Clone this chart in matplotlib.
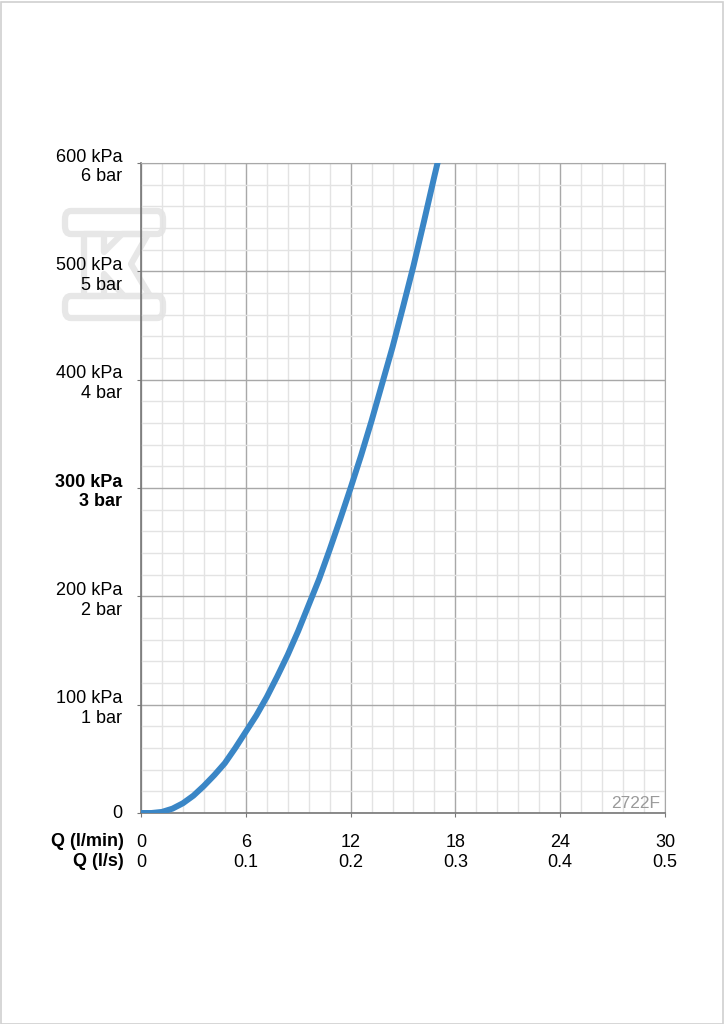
import numpy as np
import matplotlib.pyplot as plt
from matplotlib.patches import FancyBboxPatch, Polygon, Rectangle
from matplotlib.transforms import offset_copy

plt.rcParams['font.family'] = ['Liberation Sans', 'DejaVu Sans']

# flow (l/min) vs pressure loss (kPa)
flow = [0, 0.6, 1.2, 1.8, 2.4, 3.0, 3.6, 4.2, 4.8, 5.4, 6.0, 6.6, 7.2, 7.8,
        8.4, 9.0, 9.6, 10.2, 10.8, 11.4, 12.0, 12.6, 13.2, 13.8, 14.4, 15.0,
        15.6, 16.2, 16.8, 17.2]
pressure = [0, 0, 1, 4, 9, 16, 25, 35, 46, 60, 75, 90, 107, 126,
            146, 168, 192, 216, 243, 271, 300, 330, 362, 396, 430, 467,
            505, 546, 588, 615]

x_ticks = [0, 6, 12, 18, 24, 30]
x_labels_ls = ['0', '0.1', '0.2', '0.3', '0.4', '0.5']
y_ticks = [0, 100, 200, 300, 400, 500, 600]
y_labels = ['0', '100 kPa\n1 bar', '200 kPa\n2 bar', '300 kPa\n3 bar',
            '400 kPa\n4 bar', '500 kPa\n5 bar', '600 kPa\n6 bar']

W, H = 724, 1024
FS = 13
fig = plt.figure(figsize=(W / 100, H / 100), dpi=100)

# light frame round the sheet
fig.patches.append(Rectangle((0.5 / W, 0.5 / H), 1 - 2 / W, 1 - 2 / H,
                             transform=fig.transFigure, fill=False,
                             edgecolor='#d0d0d0', lw=1.2))

# watermark logo (outline)
def px(x, y):
    return (x / W, 1 - y / H)

wm = dict(transform=fig.transFigure, fill=False, edgecolor='#e7e7e7', lw=4.5, zorder=-5)
x0, y0 = px(65, 234)
x1, y1 = px(163, 211)
fig.patches.append(FancyBboxPatch((x0, y0), x1 - x0, y1 - y0,
                                  boxstyle='round,pad=0,rounding_size=0.008', **wm))
x0, y0 = px(65, 318)
x1, y1 = px(163, 296)
fig.patches.append(FancyBboxPatch((x0, y0), x1 - x0, y1 - y0,
                                  boxstyle='round,pad=0,rounding_size=0.008', **wm))
k_pts = [px(84, 234), px(104, 234), px(104, 252), px(122, 234), px(148, 234),
         px(131, 264), px(150, 296), px(124, 296), px(104, 274), px(104, 296),
         px(84, 296)]
fig.patches.append(Polygon(k_pts, closed=True, joinstyle='round', **wm))

ax = fig.add_axes([141 / W, 1 - 813 / H, 524 / W, 650 / H])
ax.patch.set_alpha(0)

ax.set_xlim(0, 30)
ax.set_ylim(0, 600)

# grid
ax.set_xticks(np.arange(0, 30.01, 1.2), minor=True)
ax.set_yticks(np.arange(0, 600.01, 20), minor=True)
ax.grid(which='minor', color='#e3e3e3', lw=1.0)
ax.grid(which='major', color='#a8a8a8', lw=1.0)
ax.set_axisbelow(True)

ax.plot(flow, pressure, color='#3a86c6', lw=4.3, solid_capstyle='round',
        solid_joinstyle='round', clip_on=True, zorder=3)

for s in ['top', 'right']:
    ax.spines[s].set_color('#a8a8a8')
for s in ['left', 'bottom']:
    ax.spines[s].set_color('#777777')
    ax.spines[s].set_linewidth(1.2)

ax.set_yticks(y_ticks)
ax.set_yticklabels([])
ax.set_xticks(x_ticks)
ax.set_xticklabels([])
ax.tick_params(which='major', length=3, color='#777777')
ax.tick_params(which='minor', length=0)

# pressure labels, a little below their ticks
ylab_tr = offset_copy(ax.transData, fig=fig, x=-19, y=-4, units='dots')
for yv, lab in zip(y_ticks, y_labels):
    dy = 4 if yv == 0 else 0
    ax.text(0, yv, lab, ha='right', va='center', fontsize=FS,
            linespacing=1.2, transform=offset_copy(ylab_tr, fig=fig, y=dy, units='dots'),
            fontweight='bold' if yv == 300 else 'normal', clip_on=False)

# two rows of flow labels
for xv, lab2 in zip(x_ticks, x_labels_ls):
    ax.text(xv, -27, str(xv), ha='center', va='center', fontsize=FS,
            clip_on=False)
    ax.text(xv, -45.5, lab2, ha='center', va='center', fontsize=FS,
            clip_on=False)
fig.text(124 / W, 1 - 842 / H, 'Q (l/min)', ha='right', va='center',
         fontsize=FS, fontweight='bold')
fig.text(124 / W, 1 - 862 / H, 'Q (l/s)', ha='right', va='center',
         fontsize=FS, fontweight='bold')

ax.text(29.7, 2, '2722F', ha='right', va='bottom', fontsize=12.5, color='#9a9a9a')

fig.savefig('out.png', dpi=100)
